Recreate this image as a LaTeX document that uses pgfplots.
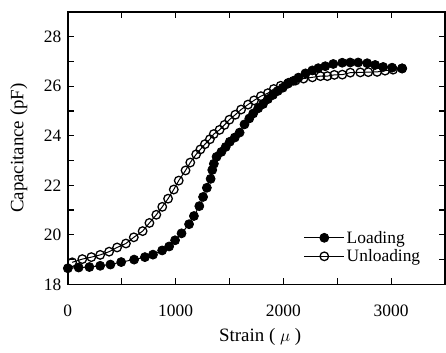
\documentclass[border=0pt]{standalone}
\usepackage{pgfplots}
\pgfplotsset{compat=1.18}
\usepackage{fontspec}
\setmainfont{Liberation Serif}
\begin{document}
\begin{tikzpicture}
\begin{axis}[
  scale only axis,
  width=378bp, height=273bp,
  xmin=0, xmax=3500, ymin=18, ymax=29,
  xtick={0,1000,2000,3000},
  minor xtick={500,1500,2500,3500},
  ytick={18,20,...,28},
  minor ytick={19,21,...,27},
  tick align=inside,
  major tick length=6bp, minor tick length=6bp,
  every tick/.style={black, line width=1.2pt},
  axis line style={line width=1.6pt},
  tick label style={font=\fontsize{17.5}{19}\selectfont},
  /pgf/number format/assume math mode=true,
  /pgf/number format/set thousands separator={},
  xticklabel style={yshift=-17bp},
  yticklabel style={xshift=-3bp},
  xlabel={Strain ( $\mu$ )},
  ylabel={Capacitance (pF)},
  label style={font=\fontsize{19}{21}\selectfont},
  xlabel style={at={(axis description cs:0.51,-0.193)}, anchor=center},
  ylabel style={at={(axis description cs:-0.13,0.5)}, anchor=center},
  legend style={draw=none, fill=none, at={(0.94,0.07)}, anchor=south east,
    font=\fontsize{17.5}{19}\selectfont, row sep=1bp, inner sep=0pt},
  legend cell align=left,
  legend image code/.code={\draw[mark repeat=2,mark phase=2,#1] plot coordinates {(0bp,0bp) (20bp,0bp) (40bp,0bp)};},
]
\addplot[black, line width=1pt, mark=*, mark size=4.5bp, mark options={fill=black, line width=0.8pt}] coordinates {
(0,18.65) (100,18.68) (200,18.7) (300,18.75) (395,18.8) (495,18.9) (615,19.0) (715,19.1) (790,19.2) (875,19.37) (940,19.53) (995,19.78) (1055,20.06) (1125,20.43) (1170,20.76) (1220,21.16) (1255,21.53) (1290,21.9) (1325,22.26) (1340,22.62) (1355,22.87) (1380,23.15) (1425,23.35) (1465,23.55) (1503,23.76) (1549,23.93) (1594,24.13) (1639,24.46) (1684,24.70) (1720,24.9) (1766,25.11) (1811,25.28) (1856,25.48) (1903,25.65) (1948,25.81) (1994,25.94) (2040,26.1) (2094,26.22) (2140,26.35) (2205,26.52) (2269,26.64) (2324,26.73) (2389,26.81) (2463,26.9) (2546,26.95) (2620,26.96) (2694,26.96) (2778,26.93) (2852,26.86) (2926,26.78) (3009,26.75) (3102,26.72)
};
\addlegendentry{Loading}
\addplot[black, line width=1pt, mark=o, mark size=4.3bp, mark options={fill=white, line width=1.3pt}] coordinates {
(3102,26.72) (3018,26.67) (2944,26.63) (2870,26.58) (2788,26.57) (2714,26.56) (2621,26.55) (2547,26.47) (2473,26.46) (2408,26.41) (2344,26.41) (2269,26.36) (2187,26.31) (2113,26.23) (2048,26.14) (1975,26.02) (1911,25.89) (1856,25.72) (1792,25.6) (1728,25.43) (1672,25.26) (1608,25.06) (1554,24.85) (1499,24.65) (1454,24.44) (1408,24.24) (1354,24.07) (1318,23.86) (1272,23.66) (1230,23.45) (1191,23.25) (1136,22.92) (1092,22.6) (1029,22.19) (983,21.83) (930,21.46) (876,21.13) (821,20.81) (757,20.48) (694,20.15) (612,19.9) (539,19.65) (457,19.49) (383,19.32) (300,19.19) (218,19.1) (134,19.02) (40,18.89)
};
\addlegendentry{Unloading}
\end{axis}
\pgfresetboundingbox
\path (-68bp,-68bp) rectangle (379bp,285bp);
\end{tikzpicture}
\end{document}
